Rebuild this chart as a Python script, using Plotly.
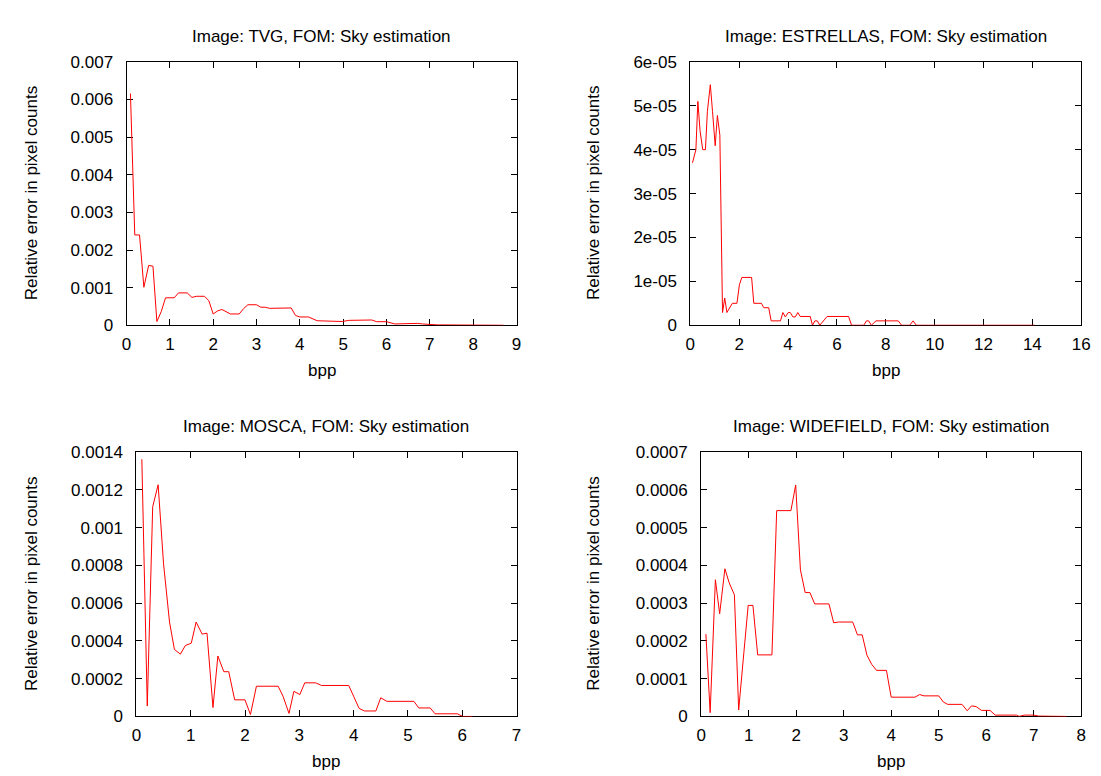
import plotly.graph_objects as go

# ---------------- data ----------------
tvg_bpp = [0.09, 0.19, 0.30, 0.40, 0.51, 0.61, 0.70, 0.80, 0.90, 1.10, 1.20, 1.40, 1.51, 1.61,
           1.80, 1.90, 2.00, 2.10, 2.20, 2.30, 2.40, 2.60, 2.70, 2.80, 3.00, 3.10, 3.20, 3.30,
           3.80, 3.90, 4.00, 4.20, 4.40, 4.98, 5.13, 5.66, 5.77, 6.00, 6.19, 6.72, 6.83, 7.17,
           7.55, 7.70, 7.85, 8.70]
tvg_err = [0.00616, 0.00240, 0.00240, 0.00101, 0.00159, 0.00157, 0.00010, 0.00036, 0.00073,
           0.00073, 0.00086, 0.00086, 0.00074, 0.00077, 0.00077, 0.00065, 0.00030, 0.00038,
           0.00042, 0.00035, 0.00030, 0.00030, 0.00044, 0.000545, 0.000545, 0.00048, 0.00048,
           0.00045, 0.00046, 0.00026, 0.00022, 0.00022, 0.00012, 0.00010, 0.00013, 0.00014,
           0.000095, 0.000095, 0.000035, 0.00005, 0.000035, 0.00001, 0.00001, 0.00002,
           0.00001, 0.0]

est_bpp = [0.09, 0.23, 0.31, 0.40, 0.51, 0.62, 0.70, 0.82, 0.91, 1.02, 1.11, 1.21, 1.32, 1.41,
           1.50, 1.61, 1.72, 1.91, 2.01, 2.11, 2.51, 2.60, 2.91, 3.01, 3.21, 3.31, 3.69, 3.79,
           3.89, 4.01, 4.09, 4.20, 4.30, 4.40, 4.50, 4.91, 5.00, 5.10, 5.20, 5.30, 5.60, 6.48,
           6.60, 7.10, 7.21, 7.30, 7.41, 7.60, 8.51, 8.65, 8.98, 9.12, 9.25, 14.10]
est_err = [3.70e-05, 4.00e-05, 5.10e-05, 4.43e-05, 4.00e-05, 4.00e-05, 4.87e-05, 5.48e-05,
           4.87e-05, 4.09e-05, 4.78e-05, 4.33e-05, 0.29e-05, 0.62e-05, 0.29e-05, 0.40e-05,
           0.50e-05, 0.50e-05, 0.92e-05, 1.09e-05, 1.09e-05, 0.50e-05, 0.50e-05, 0.40e-05,
           0.40e-05, 0.10e-05, 0.10e-05, 0.29e-05, 0.19e-05, 0.29e-05, 0.29e-05, 0.19e-05,
           0.19e-05, 0.29e-05, 0.20e-05, 0.20e-05, 0.0, 0.10e-05, 0.10e-05, 0.0, 0.20e-05,
           0.20e-05, 0.0, 0.0, 0.10e-05, 0.10e-05, 0.0, 0.10e-05, 0.10e-05, 0.0, 0.0,
           0.10e-05, 0.0, 0.0]

mos_bpp = [0.10, 0.20, 0.30, 0.40, 0.50, 0.61, 0.70, 0.81, 0.90, 1.01, 1.10, 1.21, 1.30, 1.41,
           1.50, 1.61, 1.70, 1.81, 2.00, 2.10, 2.21, 2.61, 2.70, 2.81, 2.90, 3.01, 3.10, 3.30,
           3.41, 3.91, 4.00, 4.10, 4.20, 4.41, 4.50, 4.61, 5.11, 5.20, 5.41, 5.50, 5.91, 6.01,
           6.19]
mos_err = [0.001362, 0.000055, 0.001110, 0.001227, 0.000808, 0.000500, 0.000355, 0.000330,
           0.000375, 0.000388, 0.000500, 0.000436, 0.000441, 0.000047, 0.000320, 0.000237,
           0.000237, 0.000088, 0.000088, 0.000010, 0.000160, 0.000160, 0.000107, 0.000016,
           0.000133, 0.000116, 0.000178, 0.000178, 0.000164, 0.000164, 0.000107, 0.000043,
           0.000029, 0.000029, 0.000099, 0.000080, 0.000080, 0.000045, 0.000045, 0.000014,
           0.000014, 0.0, 0.0]

wid_bpp = [0.10, 0.19, 0.30, 0.39, 0.50, 0.59, 0.70, 0.79, 0.90, 0.99, 1.09, 1.19, 1.49, 1.59,
           1.89, 1.99, 2.09, 2.19, 2.29, 2.39, 2.69, 2.79, 2.89, 3.19, 3.29, 3.39, 3.49, 3.59,
           3.69, 3.90, 4.00, 4.50, 4.60, 4.69, 5.00, 5.10, 5.19, 5.49, 5.60, 5.69, 5.79, 5.90,
           6.08, 6.19, 6.64, 6.69, 6.80, 7.00, 7.10, 7.40, 7.68]
wid_err = [2.18e-04, 0.10e-04, 3.62e-04, 2.72e-04, 3.91e-04, 3.54e-04, 3.22e-04, 0.17e-04,
           1.70e-04, 2.94e-04, 2.94e-04, 1.63e-04, 1.63e-04, 5.45e-04, 5.45e-04, 6.13e-04,
           3.88e-04, 3.28e-04, 3.28e-04, 2.98e-04, 2.98e-04, 2.48e-04, 2.50e-04, 2.50e-04,
           2.16e-04, 2.16e-04, 1.62e-04, 1.38e-04, 1.22e-04, 1.22e-04, 0.51e-04, 0.51e-04,
           0.58e-04, 0.545e-04, 0.545e-04, 0.38e-04, 0.32e-04, 0.32e-04, 0.15e-04, 0.28e-04,
           0.26e-04, 0.16e-04, 0.16e-04, 0.035e-04, 0.035e-04, 0.0, 0.035e-04, 0.035e-04,
           0.01e-04, 0.01e-04, 0.0]

titles = ["Image: TVG, FOM: Sky estimation", "Image: ESTRELLAS, FOM: Sky estimation",
          "Image: MOSCA, FOM: Sky estimation", "Image: WIDEFIELD, FOM: Sky estimation"]
x_label = "bpp"
y_label = "Relative error in pixel counts"

tvg_xticks = [0, 1, 2, 3, 4, 5, 6, 7, 8, 9]
est_xticks = [0, 2, 4, 6, 8, 10, 12, 14, 16]
mos_xticks = [0, 1, 2, 3, 4, 5, 6, 7]
wid_xticks = [0, 1, 2, 3, 4, 5, 6, 7, 8]

tvg_yticks = [0, 0.001, 0.002, 0.003, 0.004, 0.005, 0.006, 0.007]
tvg_ytext = ["0", "0.001", "0.002", "0.003", "0.004", "0.005", "0.006", "0.007"]
est_yticks = [0, 1e-05, 2e-05, 3e-05, 4e-05, 5e-05, 6e-05]
est_ytext = ["0", "1e-05", "2e-05", "3e-05", "4e-05", "5e-05", "6e-05"]
mos_yticks = [0, 0.0002, 0.0004, 0.0006, 0.0008, 0.001, 0.0012, 0.0014]
mos_ytext = ["0", "0.0002", "0.0004", "0.0006", "0.0008", "0.001", "0.0012", "0.0014"]
wid_yticks = [0, 0.0001, 0.0002, 0.0003, 0.0004, 0.0005, 0.0006, 0.0007]
wid_ytext = ["0", "0.0001", "0.0002", "0.0003", "0.0004", "0.0005", "0.0006", "0.0007"]

# ---------------- layout ----------------
W, H = 1101, 776
FONT = "Liberation Sans, Arial, sans-serif"
FS = 17

panels = [
    dict(x=tvg_bpp, y=tvg_err, xt=tvg_xticks, yt=tvg_yticks, ytt=tvg_ytext,
         px=(115, 510), py=(46, 316)),
    dict(x=est_bpp, y=est_err, xt=est_xticks, yt=est_yticks, ytt=est_ytext,
         px=(686, 1082), py=(46, 316)),
    dict(x=mos_bpp, y=mos_err, xt=mos_xticks, yt=mos_yticks, ytt=mos_ytext,
         px=(125, 510), py=(446, 717)),
    dict(x=wid_bpp, y=wid_err, xt=wid_xticks, yt=wid_yticks, ytt=wid_ytext,
         px=(697, 1082), py=(446, 717)),
]

fig = go.Figure()
layout = dict(
    width=W, height=H, margin=dict(l=0, r=0, t=0, b=0),
    paper_bgcolor="white", plot_bgcolor="white", showlegend=False,
    font=dict(family=FONT, size=FS, color="black"),
)
annotations = []
for i, p in enumerate(panels):
    n = "" if i == 0 else str(i + 1)
    fig.add_trace(go.Scatter(x=p["x"], y=p["y"], mode="lines",
                             line=dict(color="#ff0000", width=1),
                             xaxis="x" + n, yaxis="y" + n, hoverinfo="skip"))
    x0, x1 = p["px"]
    y0, y1 = p["py"]
    dx = [x0 / W, x1 / W]
    dy = [1 - y1 / H, 1 - y0 / H]
    common = dict(showgrid=False, zeroline=False, showline=True, linecolor="black",
                  linewidth=1, mirror="ticks", ticks="inside", ticklen=6,
                  tickcolor="black", tickwidth=1, layer="below traces",
                  tickfont=dict(family=FONT, size=FS, color="black"))
    layout["xaxis" + n] = dict(domain=dx, range=[p["xt"][0], p["xt"][-1]],
                               tickvals=p["xt"], ticktext=[str(v) for v in p["xt"]],
                               anchor="y" + n, ticklabelstandoff=3, **common)
    layout["yaxis" + n] = dict(domain=dy, range=[p["yt"][0], p["yt"][-1]],
                               tickvals=p["yt"], ticktext=p["ytt"],
                               anchor="x" + n, ticklabelstandoff=9, **common)
    cx = (x0 + x1) / 2
    cy = (y0 + y1) / 2
    annotations.append(dict(text=titles[i], x=cx / W, y=1 - (y0 - 26) / H,
                            xref="paper", yref="paper", showarrow=False,
                            xanchor="center", yanchor="middle"))
    annotations.append(dict(text=x_label, x=cx / W, y=1 - (y1 + 46) / H,
                            xref="paper", yref="paper", showarrow=False,
                            xanchor="center", yanchor="middle"))
    ylx = 19 if i % 2 == 0 else 588
    annotations.append(dict(text=y_label, x=ylx / W, y=1 - cy / H, textangle=-90,
                            xref="paper", yref="paper", showarrow=False,
                            xanchor="center", yanchor="middle"))
layout["annotations"] = annotations
fig.update_layout(**layout)
fig.write_html("out.html")
